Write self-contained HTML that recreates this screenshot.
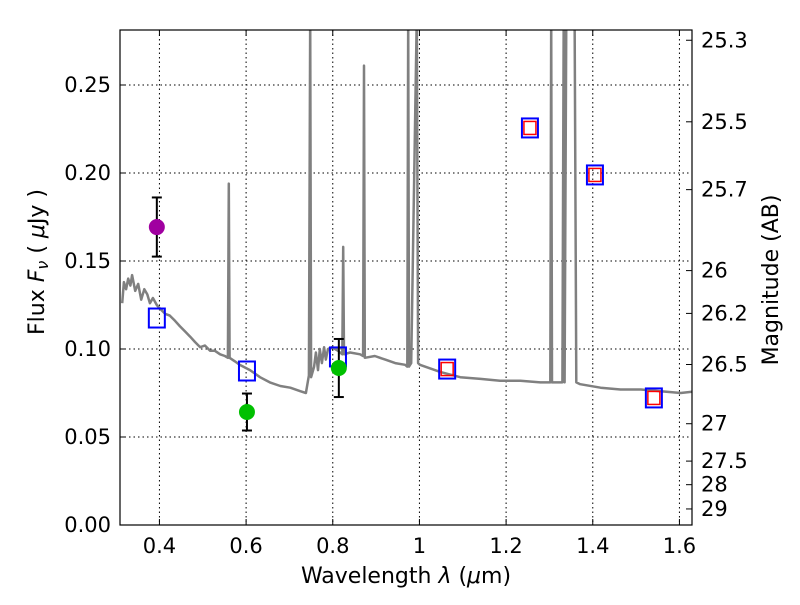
<!DOCTYPE html>
<html><head><meta charset="utf-8"><style>
body{margin:0;background:#fff}
svg text{font-family:"DejaVu Sans","Liberation Sans",sans-serif;fill:#000}
</style></head><body>
<svg id="chart" width="800" height="600" xmlns="http://www.w3.org/2000/svg">
<g id="grid"></g>
<g id="spec"></g>
<g id="marks"></g>
<rect x="120" y="30" width="572" height="495" fill="none" stroke="#000" stroke-width="1.2"/>
<g id="axes"></g>
<text x="406" y="583" font-size="22" text-anchor="middle">Wavelength  <tspan font-style="italic">λ</tspan> (<tspan font-style="italic">μ</tspan>m)</text>
<text transform="translate(44,262) rotate(-90)" font-size="22" text-anchor="middle">Flux  <tspan font-style="italic">F<tspan font-size="16" dy="4">ν</tspan></tspan><tspan dy="-4">  (  </tspan><tspan font-style="italic">μ</tspan>Jy )</text>
<text transform="translate(778,280) rotate(-90)" font-size="22" text-anchor="middle">Magnitude (AB)</text>
</svg>
<script>
const xTicks=[0.4,0.6,0.8,1.0,1.2,1.4,1.6];
const xTickLabels=["0.4","0.6","0.8","1","1.2","1.4","1.6"];
const yTicks=[0,0.05,0.10,0.15,0.20,0.25];
const yTickLabels=["0.00","0.05","0.10","0.15","0.20","0.25"];
const magTicks=[25.3,25.5,25.7,26,26.2,26.5,27,27.5,28,29];
const specWave=[0.314,0.318,0.323,0.328,0.333,0.337,0.344,0.351,0.358,0.365,0.372,0.378,0.385,0.394,0.401,0.413,0.424,0.436,0.447,0.459,0.471,0.482,0.494,0.505,0.517,0.528,0.540,0.551,0.558,0.560,0.562,0.574,0.585,0.609,0.632,0.655,0.679,0.702,0.725,0.738,0.745,0.748,0.750,0.757,0.761,0.766,0.770,0.775,0.780,0.784,0.789,0.798,0.812,0.822,0.824,0.826,0.840,0.863,0.870,0.872,0.874,0.897,0.921,0.944,0.967,0.972,0.974,0.976,0.981,0.994,0.997,1.001,1.048,1.094,1.141,1.186,1.233,1.279,1.302,1.304,1.306,1.330,1.333,1.335,1.339,1.358,1.362,1.371,1.418,1.464,1.511,1.557,1.603,1.640];
const specFlux=[0.126,0.138,0.134,0.140,0.136,0.142,0.133,0.137,0.128,0.134,0.131,0.126,0.129,0.125,0.123,0.120,0.119,0.116,0.113,0.110,0.107,0.104,0.101,0.102,0.099,0.099,0.097,0.096,0.095,0.194,0.095,0.093,0.091,0.088,0.084,0.081,0.079,0.078,0.076,0.075,0.085,0.29,0.084,0.090,0.098,0.088,0.100,0.092,0.101,0.094,0.100,0.101,0.099,0.097,0.158,0.097,0.098,0.097,0.096,0.261,0.095,0.096,0.094,0.092,0.091,0.090,0.29,0.090,0.092,0.29,0.092,0.091,0.087,0.084,0.083,0.082,0.082,0.081,0.081,0.29,0.081,0.081,0.29,0.081,0.29,0.29,0.081,0.080,0.078,0.077,0.077,0.076,0.075,0.076];
const modelWave=[0.394,0.602,0.812,1.064,1.255,1.405,1.541];
const modelFlux=[0.1176,0.0875,0.0955,0.0886,0.2256,0.1989,0.0722];
const redWave=[1.064,1.255,1.405,1.541];
const redFlux=[0.0886,0.2256,0.1989,0.0722];
const obsWave=[0.602,0.814];
const obsFlux=[0.0642,0.0892];
const obsErr=[0.0105,0.0165];
const uvWave=[0.394];
const uvFlux=[0.1693];
const uvErr=[0.0168];

const X0=120,X1=692,Y0=525,Y1=30,XMIN=0.309,XMAX=1.629,YMIN=0,YMAX=0.28125;
const sx=v=>X0+(v-XMIN)/(XMAX-XMIN)*(X1-X0);
const sy=v=>Y0-(v-YMIN)/(YMAX-YMIN)*(Y0-Y1);
const NS="http://www.w3.org/2000/svg";
function mk(parent,tag,attrs){const e=document.createElementNS(NS,tag);for(const k in attrs)e.setAttribute(k,attrs[k]);parent.appendChild(e);return e;}
const grid=document.getElementById('grid'),axes=document.getElementById('axes'),spec=document.getElementById('spec'),marks=document.getElementById('marks');

xTicks.forEach((t,i)=>{const x=sx(t);
 let g=mk(grid,'line',{x1:x,x2:x,y1:Y1,y2:Y0,stroke:'#000','stroke-width':1,'stroke-dasharray':'1.5,3'});
 
 let tk=mk(axes,'line',{x1:x,x2:x,y1:Y0,y2:Y0-6,stroke:'#000'});
 
 let tk2=mk(axes,'line',{x1:x,x2:x,y1:Y1,y2:Y1+6,stroke:'#000'});
 
 let l=mk(axes,'text',{x:x,y:553,'font-size':21,'text-anchor':'middle'});l.textContent=xTickLabels[i];
 
});
yTicks.forEach((t,i)=>{const y=sy(t);
 if(t>0){let g=mk(grid,'line',{x1:X0,x2:X1,y1:y,y2:y,stroke:'#000','stroke-width':1,'stroke-dasharray':'1.5,3'});
 }
 let tk=mk(axes,'line',{x1:X0,x2:X0+6,y1:y,y2:y,stroke:'#000'});
 
 let l=mk(axes,'text',{x:111,y:y+7,'font-size':21,'text-anchor':'end'});l.textContent=yTickLabels[i];
 
});
magTicks.forEach(m=>{const f=Math.pow(10,(23.9-m)/2.5);const y=sy(f);
 let tk=mk(axes,'line',{x1:X1-6,x2:X1,y1:y,y2:y,stroke:'#000'});
 
 let l=mk(axes,'text',{x:701,y:y+7,'font-size':21});l.textContent=String(m);
 
});

const cp=mk(document.getElementById('chart'),'clipPath',{id:'clip'});mk(cp,'rect',{x:X0,y:Y1,width:X1-X0,height:Y0-Y1});
spec.setAttribute('clip-path','url(#clip)');
let d=specWave.map((w,i)=>(i?'L':'M')+sx(w).toFixed(1)+','+sy(specFlux[i]).toFixed(1)).join(' ');
let sp=mk(spec,'path',{d:d,fill:'none',stroke:'#808080','stroke-width':2.5,'stroke-linejoin':'round'});


function errbar(x,yv,e,name){const ya=sy(yv-e),yb=sy(yv+e);
 let g=mk(marks,'g',{stroke:'#000','stroke-width':2});
 
 mk(g,'line',{x1:x,x2:x,y1:ya,y2:yb});mk(g,'line',{x1:x-5,x2:x+5,y1:ya,y2:ya});mk(g,'line',{x1:x-5,x2:x+5,y1:yb,y2:yb});}
uvWave.forEach((w,i)=>{errbar(sx(w),uvFlux[i],uvErr[i],'uv-errorbar');
 let c=mk(marks,'circle',{cx:sx(w),cy:sy(uvFlux[i]),r:8,fill:'#a000a0'});
 });
modelWave.forEach((w,i)=>{const x=sx(w),y=sy(modelFlux[i]);
 let r=mk(marks,'rect',{x:x-8,y:y-9.5,width:16,height:19,fill:'none',stroke:'#0000ff','stroke-width':2});
 });
redWave.forEach((w,i)=>{const x=sx(w),y=sy(redFlux[i]);
 let r=mk(marks,'rect',{x:x-6,y:y-6.5,width:12,height:13,fill:'none',stroke:'#ff0000','stroke-width':1.5});
 });
obsWave.forEach((w,i)=>{errbar(sx(w),obsFlux[i],obsErr[i],'obs-errorbar');
 let c=mk(marks,'circle',{cx:sx(w),cy:sy(obsFlux[i]),r:8,fill:'#00c000'});
 });
</script>
</body></html>
